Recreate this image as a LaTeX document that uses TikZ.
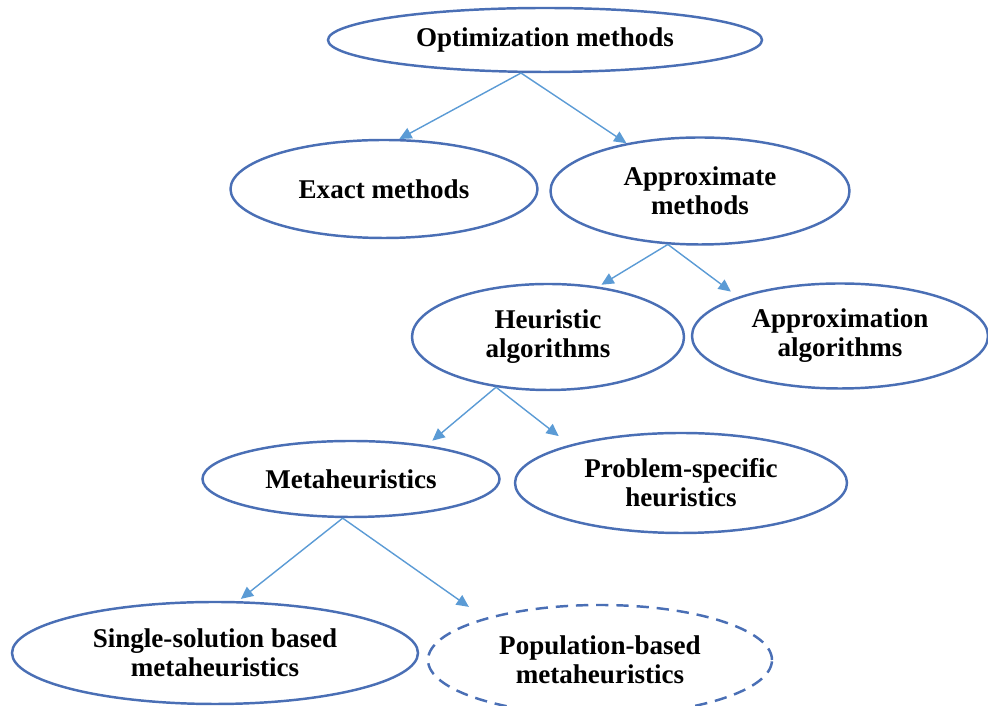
\documentclass[tikz,border=0pt]{standalone}
\usepackage{fontspec}
\setmainfont{Liberation Serif}
\usetikzlibrary{shapes.geometric,arrows.meta}
\definecolor{ovalblue}{HTML}{4A6FB5}
\definecolor{arrowblue}{HTML}{5B9BD5}
\begin{document}
\begin{tikzpicture}[
  oval/.style={ellipse,draw=ovalblue,line width=1.4pt,inner sep=0pt,align=center,
    font=\bfseries\fontsize{15.4}{16.6}\selectfont},
  dashoval/.style={oval,dash pattern=on 7pt off 4.5pt},
  link/.style={draw=arrowblue,line width=0.8pt,-{Triangle[length=7pt,width=6.5pt]}}]
\useasboundingbox (0,0) rectangle (19.76,14.12);

\node[oval,minimum width=8.68cm,minimum height=1.28cm] (opt) at (10.90,13.32) {Optimization methods};
\node[oval,minimum width=6.14cm,minimum height=1.96cm] (exact) at (7.68,10.34) {Exact methods};
\node[oval,minimum width=5.98cm,minimum height=2.14cm] (approx) at (14.00,10.30) {Approximate\\methods};
\node[oval,minimum width=5.44cm,minimum height=2.12cm] (heur) at (10.96,7.38) {Heuristic\\algorithms};
\node[oval,minimum width=5.92cm,minimum height=2.10cm] (appalg) at (16.80,7.40) {Approximation\\algorithms};
\node[oval,minimum width=5.94cm,minimum height=1.52cm] (meta) at (7.02,4.54) {Metaheuristics};
\node[oval,minimum width=6.64cm,minimum height=2.00cm] (probspec) at (13.62,4.46) {Problem-specific\\heuristics};
\node[oval,minimum width=8.12cm,minimum height=2.04cm] (single) at (4.30,1.06) {Single-solution based\\metaheuristics};
\node[dashoval,minimum width=6.88cm,minimum height=2.20cm] (pop) at (12.00,0.92) {Population-based\\metaheuristics};

\draw[link] (opt.234) -- (exact.73);
\draw[link] (opt.234) -- (approx.147);
\draw[link,shorten >=2pt] (approx.239) -- (heur.45);
\draw[link,shorten >=5pt] (approx.239) -- (appalg.159);
\draw[link,shorten >=4pt] (heur.224) -- (meta.24);
\draw[link,shorten >=8pt] (heur.224) -- (probspec.161);
\draw[link,shorten >=2pt] (meta.258) -- (single.66);
\draw[link,shorten >=11pt] (meta.258) -- (pop.160);

\end{tikzpicture}
\end{document}
